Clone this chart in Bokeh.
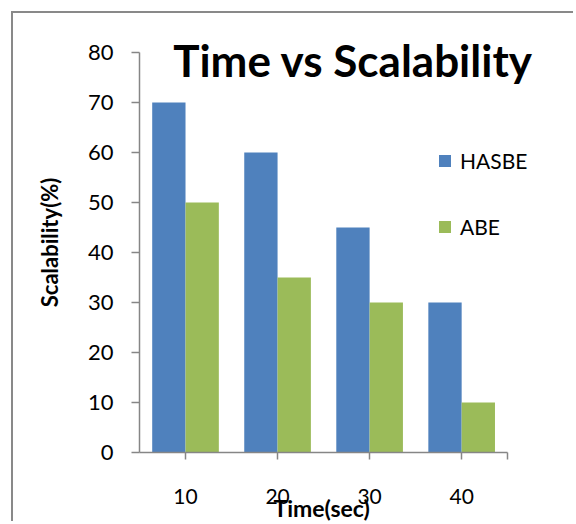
from bokeh.plotting import figure
from bokeh.models import (ColumnDataSource, Range1d, Legend, LegendItem,
                          Label, FixedTicker, Title)
from bokeh.transform import dodge
from bokeh.embed import file_html
from bokeh.resources import INLINE

# ---- data ----
times = [10, 20, 30, 40]
hasbe = [70, 60, 45, 30]
abe = [50, 35, 30, 10]
series_names = ["HASBE", "ABE"]
y_ticks = [0, 10, 20, 30, 40, 50, 60, 70, 80]
title_text = "Time vs Scalability"
x_label = "Time(sec)"
y_label = "Scalability(%)"

BLUE = "#4F81BD"
GREEN = "#9BBB59"
AXIS = "#868686"
FONT = "Lato"

source = ColumnDataSource(data=dict(t=times, hasbe=hasbe, abe=abe))

# category slots are 10 units wide: the drawn axis spans 5..45; the visible
# range extends further right/up so that the title and legend are not clipped
p = figure(x_range=Range1d(5, 49), y_range=Range1d(0, 84),
           width=562, height=510,
           min_border_left=126, min_border_right=31,
           min_border_top=19, min_border_bottom=71,
           output_backend="svg", toolbar_location=None)
p.styles = {"margin-left": "11px", "margin-top": "11px",
            "border-left": "2px solid #898989", "border-top": "2px solid #898989"}
p.outline_line_color = None
p.xgrid.visible = False
p.ygrid.visible = False

bw = 3.62
r1 = p.vbar(x=dodge("t", -bw / 2), top="hasbe", width=bw,
            source=source, color=BLUE, line_color=None)
r2 = p.vbar(x=dodge("t", bw / 2), top="abe", width=bw,
            source=source, color=GREEN, line_color=None)

# axes
for ax in (p.xaxis[0], p.yaxis[0]):
    ax.axis_line_color = AXIS
    ax.axis_line_width = 1.5
    ax.major_tick_line_color = AXIS
    ax.major_tick_line_width = 1.5
    ax.major_tick_in = 0
    ax.minor_tick_line_color = None
    ax.major_label_text_font = FONT
    ax.major_label_text_color = "black"
    ax.axis_label_text_font = FONT
    ax.axis_label_text_font_style = "bold"
    ax.axis_label_text_color = "black"

p.yaxis.bounds = (0, 80)
p.yaxis.ticker = FixedTicker(ticks=y_ticks)
p.yaxis.major_tick_out = 8
p.yaxis.major_label_text_font_size = "22px"
p.yaxis.major_label_standoff = 18
p.yaxis.axis_label = y_label
p.yaxis.axis_label_text_font_size = "22px"
p.yaxis.axis_label_standoff = 22

p.xaxis.bounds = (5, 45)
p.xaxis.ticker = FixedTicker(ticks=times + [45])
p.xaxis.major_label_overrides = {45: ""}
p.xaxis.major_tick_out = 7
p.xaxis.major_label_text_font_size = "21px"
p.xaxis.major_label_standoff = 29

# x-axis title, placed under the middle of the drawn axis (5..45)
p.add_layout(Title(text=x_label, align="left", vertical_align="top",
                   offset=134, standoff=-26, text_font=FONT,
                   text_font_style="bold", text_font_size="23px",
                   text_color="black"), "below")

# chart title drawn over the plot area
p.add_layout(Label(x=8.66, y=78.5, text=title_text, text_font=FONT,
                   text_font_style="bold", text_font_size="44px",
                   text_align="left", text_baseline="alphabetic", text_color="black"))

legend = Legend(items=[LegendItem(label=series_names[0], renderers=[r1]),
                       LegendItem(label=series_names[1], renderers=[r2])],
                location=(298, 213), orientation="vertical")
legend.glyph_width = 15
legend.glyph_height = 15
legend.label_height = 15
legend.label_standoff = 8
legend.spacing = 41
legend.padding = 0
legend.margin = 0
legend.border_line_color = None
legend.background_fill_color = None
legend.background_fill_alpha = 0
legend.label_text_font = FONT
legend.label_text_font_size = "21px"
legend.label_text_color = "black"
p.add_layout(legend)

open("out.html", "w").write(file_html(p, INLINE))
